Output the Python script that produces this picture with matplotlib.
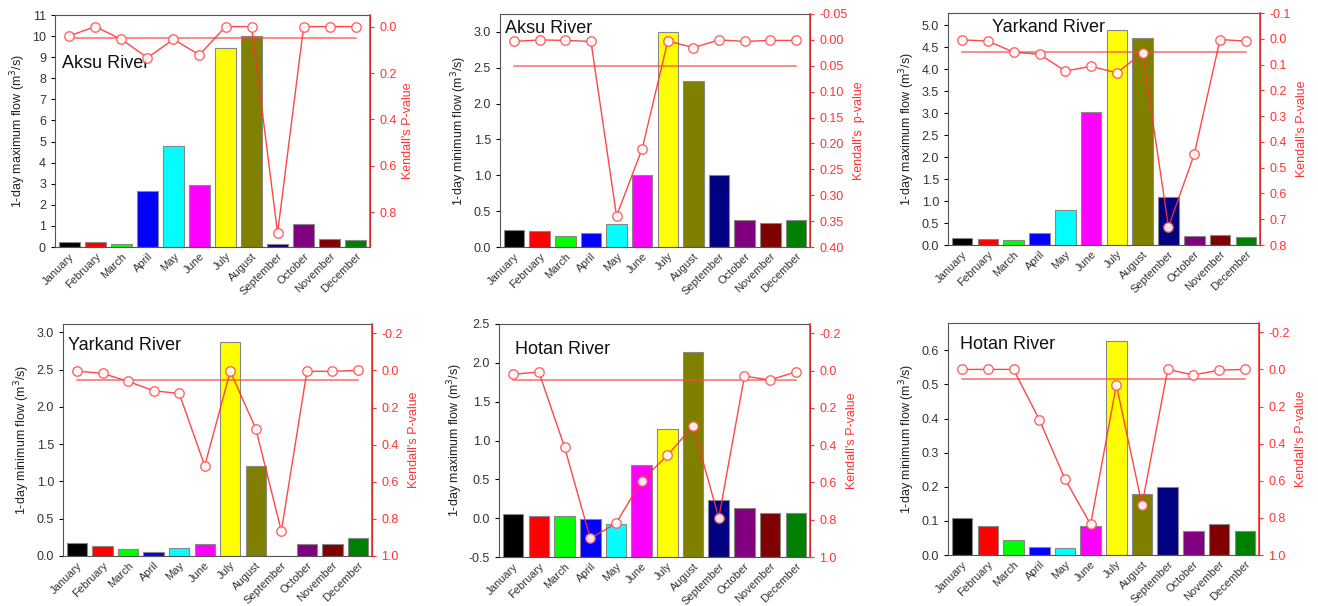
import numpy as np
import matplotlib
matplotlib.use("Agg")
from matplotlib import pyplot as plt
from matplotlib.ticker import FormatStrFormatter

plt.rcParams['font.family'] = ['Liberation Sans', 'DejaVu Sans']

months = ['January', 'February', 'March', 'April', 'May', 'June', 'July',
          'August', 'September', 'October', 'November', 'December']
bar_colors = ['#000000', '#ff0000', '#00ff00', '#0000ff', '#00ffff', '#ff00ff',
              '#ffff00', '#808000', '#000080', '#800080', '#800000', '#008000']
sig_level = 0.05

# 各河流 1日最大/最小流量 和 Kendall p 值
aksu_max_flow = [0.22, 0.22, 0.14, 2.67, 4.78, 2.95, 9.45, 10.0, 0.16, 1.07, 0.37, 0.33]
aksu_max_p = [0.04, 0.0, 0.055, 0.134, 0.055, 0.122, 0.0, 0.0, 0.89, 0.0, 0.0, 0.0]

aksu_min_flow = [0.24, 0.22, 0.16, 0.19, 0.32, 1.0, 3.0, 2.31, 1.0, 0.38, 0.34, 0.37]
aksu_min_p = [0.003, 0.0, 0.001, 0.003, 0.34, 0.21, 0.002, 0.015, 0.0, 0.003, 0.001, 0.001]

yarkand_max_flow = [0.17, 0.14, 0.11, 0.27, 0.80, 3.02, 4.89, 4.72, 1.10, 0.20, 0.23, 0.18]
yarkand_max_p = [0.004, 0.009, 0.052, 0.06, 0.125, 0.107, 0.132, 0.054, 0.73, 0.448, 0.003, 0.009]

yarkand_min_flow = [0.18, 0.13, 0.094, 0.058, 0.11, 0.156, 2.87, 1.21, 0.0, 0.165, 0.156, 0.237]
yarkand_min_p = [0.004, 0.016, 0.059, 0.11, 0.124, 0.514, 0.005, 0.314, 0.866, 0.005, 0.005, 0.0]

hotan_max_flow = [0.06, 0.03, 0.022, -0.01, -0.08, 0.68, 1.15, 2.14, 0.23, 0.13, 0.07, 0.07]
hotan_max_p = [0.02, 0.007, 0.41, 0.90, 0.82, 0.59, 0.455, 0.296, 0.79, 0.03, 0.05, 0.007]

hotan_min_flow = [0.107, 0.085, 0.044, 0.024, 0.02, 0.085, 0.628, 0.178, 0.2, 0.07, 0.092, 0.07]
hotan_min_p = [0.0, 0.0, 0.0, 0.27, 0.59, 0.835, 0.084, 0.73, 0.0, 0.03, 0.004, 0.0]

W, H = 1318, 606


def make_axes(fig, l, r, t, b):
    return fig.add_axes([l / W, 1 - b / H, (r - l) / W, (b - t) / H])


def panel(ax, flow, pval, river, kind, ylim, yticks, yfmt, plim, pticks, pfmt,
          plabel="Kendall's P-value", title_xy=(0.03, 0.9)):
    x = np.arange(len(months))
    base = ylim[0]
    heights = np.array(flow) - base
    ax.bar(x, heights, bottom=base, width=0.8, color=bar_colors,
           edgecolor='#888888', linewidth=0.8, zorder=2)
    ax.set_xlim(-0.55, 11.55)
    ax.set_ylim(*ylim)
    ax.set_yticks(yticks)
    ax.yaxis.set_major_formatter(FormatStrFormatter(yfmt))
    ax.set_xticks(x)
    ax.set_xticklabels(months, rotation=45, ha='right', rotation_mode='anchor',
                       fontsize=8, color='#333333')
    ax.tick_params(axis='y', labelsize=9, length=3, direction='out', labelcolor='#333333')
    ax.tick_params(axis='x', length=0, pad=3)
    ax.set_ylabel('1-day %s flow (m$^3$/s)' % kind, fontsize=9, labelpad=3, color='#222222')
    for s in ['left', 'top', 'bottom']:
        ax.spines[s].set_color('#555555')
    ax.text(title_xy[0], title_xy[1], river, transform=ax.transAxes, fontsize=13,
            color='#111111', zorder=5)

    ax2 = ax.twinx()
    ax2.plot([0, 11], [sig_level, sig_level], color='#ff4444', lw=1.1, alpha=0.8, zorder=3)
    ax2.plot(x, pval, color='#ff3333', lw=1.0, alpha=0.9, marker='o', markersize=6.8,
             markerfacecolor='white', markeredgecolor='#ff5555', markeredgewidth=1.0, zorder=4)
    ax2.set_ylim(plim[1], plim[0])
    ax2.set_yticks(pticks)
    ax2.yaxis.set_major_formatter(FormatStrFormatter(pfmt))
    ax2.tick_params(axis='y', colors='#ff3333', labelsize=9, length=3)
    ax2.spines['right'].set_color('#ff3333')
    ax2.spines['right'].set_linewidth(1.2)
    for s in ['left', 'top', 'bottom']:
        ax2.spines[s].set_visible(False)
    ax2.set_ylabel(plabel, color='#ff3333', fontsize=9, labelpad=4)


fig = plt.figure(figsize=(W / 100, H / 100), dpi=100)

ax1 = make_axes(fig, 55, 370, 15, 247)
panel(ax1, aksu_max_flow, aksu_max_p, 'Aksu River', 'maximum', (0, 11), np.arange(0, 12, 1), '%d',
      (-0.05, 0.95), np.arange(0, 0.81, 0.2), '%.1f', title_xy=(0.022, 0.77))

ax2 = make_axes(fig, 500, 810, 14, 247)
panel(ax2, aksu_min_flow, aksu_min_p, 'Aksu River', 'minimum', (0, 3.25), np.arange(0, 3.01, 0.5), '%.1f',
      (-0.05, 0.40), np.arange(-0.05, 0.401, 0.05), '%.2f', plabel="Kendall's  p-value",
      title_xy=(0.015, 0.92))

ax3 = make_axes(fig, 948, 1260, 13, 245)
panel(ax3, yarkand_max_flow, yarkand_max_p, 'Yarkand River', 'maximum', (0, 5.28), np.arange(0, 5.01, 0.5), '%.1f',
      (-0.1, 0.8), np.arange(-0.1, 0.81, 0.1), '%.1f', title_xy=(0.14, 0.92))

ax4 = make_axes(fig, 63, 372, 324, 556)
panel(ax4, yarkand_min_flow, yarkand_min_p, 'Yarkand River', 'minimum', (0, 3.11), np.arange(0, 3.01, 0.5), '%.1f',
      (-0.25, 1.0), np.arange(-0.2, 1.01, 0.2), '%.1f', title_xy=(0.015, 0.89))

ax5 = make_axes(fig, 499, 810, 324, 557)
panel(ax5, hotan_max_flow, hotan_max_p, 'Hotan River', 'maximum', (-0.5, 2.5), np.arange(-0.5, 2.51, 0.5), '%.1f',
      (-0.25, 1.0), np.arange(-0.2, 1.01, 0.2), '%.1f', title_xy=(0.05, 0.87))

ax6 = make_axes(fig, 948, 1259, 323, 555)
panel(ax6, hotan_min_flow, hotan_min_p, 'Hotan River', 'minimum', (0, 0.68), np.arange(0, 0.61, 0.1), '%.1f',
      (-0.25, 1.0), np.arange(-0.2, 1.01, 0.2), '%.1f', title_xy=(0.04, 0.89))

fig.savefig('out.png', dpi=100, facecolor='white')
